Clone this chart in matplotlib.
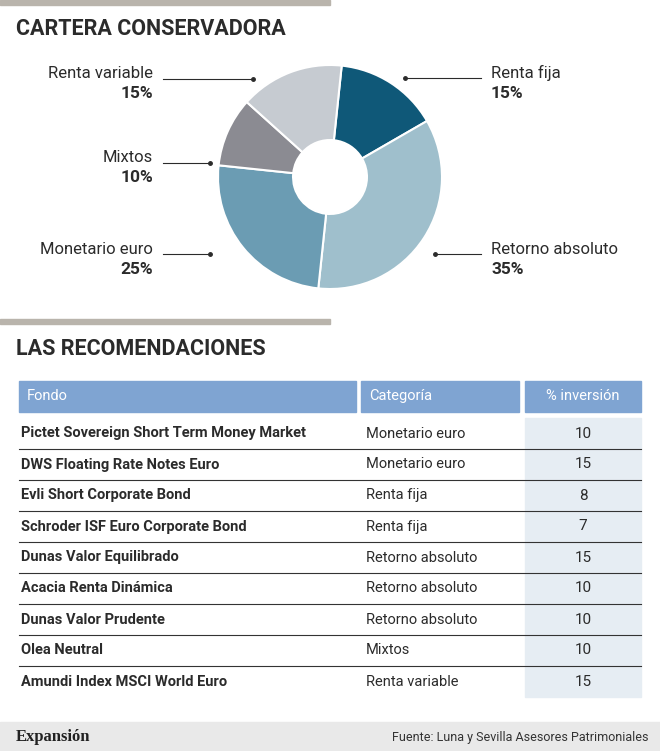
import matplotlib.pyplot as plt
from matplotlib.patches import Rectangle

plt.rcParams['font.family'] = ['Roboto', 'DejaVu Sans']

# pie data, clockwise from top
pie_labels = ['Renta fija', 'Retorno absoluto', 'Monetario euro', 'Mixtos', 'Renta variable']
pie_values = [15, 35, 25, 10, 15]
pie_colors = ['#0f5878', '#9fbfcc', '#6b9cb3', '#8b8b92', '#c6cbd1']

fondos = ['Pictet Sovereign Short Term Money Market', 'DWS Floating Rate Notes Euro',
          'Evli Short Corporate Bond', 'Schroder ISF Euro Corporate Bond',
          'Dunas Valor Equilibrado', 'Acacia Renta Dinámica', 'Dunas Valor Prudente',
          'Olea Neutral', 'Amundi Index MSCI World Euro']
categorias = ['Monetario euro', 'Monetario euro', 'Renta fija', 'Renta fija',
              'Retorno absoluto', 'Retorno absoluto', 'Retorno absoluto', 'Mixtos',
              'Renta variable']
inversion = [10, 15, 8, 7, 15, 10, 10, 10, 15]

W, H = 660, 751
fig = plt.figure(figsize=(6.6, 7.51), dpi=100)
fig.patch.set_facecolor('white')
ax = fig.add_axes([0, 0, 1, 1])
ax.set_xlim(0, W)
ax.set_ylim(H, 0)
ax.axis('off')

dark = '#2b2b2b'
ax.add_patch(Rectangle((0, 0), 330, 5, color='#b9b4ac'))
ax.text(16, 29, 'CARTERA CONSERVADORA', fontsize=15.5, fontweight='bold', color=dark,
        va='center')

# pie
R = 112
pax = fig.add_axes([(330 - R) / W, 1 - (177 + R) / H, 2 * R / W, 2 * R / H])
pax.pie(pie_values, colors=pie_colors, startangle=84, counterclock=False, radius=1,
        wedgeprops=dict(width=0.67, edgecolor='white', linewidth=1.5))
pax.set_xlim(-1, 1)
pax.set_ylim(-1, 1)
pax.set_aspect('equal')

# labels: (text x, y, align, line x0, x1, dot x)
lab_pos = {
    'Renta fija': (491, 73, 'left', 405, 481, 405),
    'Retorno absoluto': (491, 249, 'left', 435, 481, 435),
    'Monetario euro': (153, 249, 'right', 163, 210, 210),
    'Mixtos': (153, 158, 'right', 163, 210, 210),
    'Renta variable': (153, 74, 'right', 163, 253, 253),
}
for lab, val in zip(pie_labels, pie_values):
    x, y, ha, l0, l1, d = lab_pos[lab]
    ax.text(x, y, lab, fontsize=12, color=dark, ha=ha, va='center')
    ax.text(x, y + 20, f'{val}%', fontsize=12.5, fontweight='bold', color=dark, ha=ha,
            va='center')
    ax.plot([l0, l1], [y + 5, y + 5], color=dark, lw=0.8)
    ax.plot([d], [y + 5], 'o', color=dark, ms=2.5)

ax.add_patch(Rectangle((0, 319), 330, 5, color='#b9b4ac'))
ax.text(16, 349, 'LAS RECOMENDACIONES', fontsize=15.5, fontweight='bold', color=dark,
        va='center')

# table
hdr = '#7fa4d2'
ax.add_patch(Rectangle((19, 381), 337, 31, color=hdr))
ax.add_patch(Rectangle((361, 381), 158, 31, color=hdr))
ax.add_patch(Rectangle((525, 381), 116, 31, color=hdr))
ax.text(27, 396, 'Fondo', fontsize=10.5, color='white', va='center')
ax.text(369, 396, 'Categoría', fontsize=10.5, color='white', va='center')
ax.text(583, 396, '% inversión', fontsize=10.5, color='white', va='center', ha='center')

y0, rh = 418, 31
ax.add_patch(Rectangle((525, y0), 116, rh * len(fondos), color='#e6edf3'))
for i, (f, c, v) in enumerate(zip(fondos, categorias, inversion)):
    yc = y0 + rh * i + rh / 2
    ax.text(21, yc, f, fontsize=10.5, fontweight='bold', color=dark, va='center')
    ax.text(366, yc, c, fontsize=10.5, color=dark, va='center')
    ax.text(583, yc, str(v), fontsize=11, color=dark, va='center', ha='center')
    if i < len(fondos) - 1:
        ax.plot([19, 641], [y0 + rh * (i + 1)] * 2, color='#333333', lw=0.8)

# footer
ax.add_patch(Rectangle((0, 722), W, 29, color='#e9e9e9'))
ax.text(16, 737, 'Expansión', fontsize=12, fontweight='bold', family='Liberation Serif',
        color='#222222', va='center')
ax.text(648, 737, 'Fuente: Luna y Sevilla Asesores Patrimoniales', fontsize=9,
        color='#333333', va='center', ha='right')

fig.savefig('out.png', dpi=100)
